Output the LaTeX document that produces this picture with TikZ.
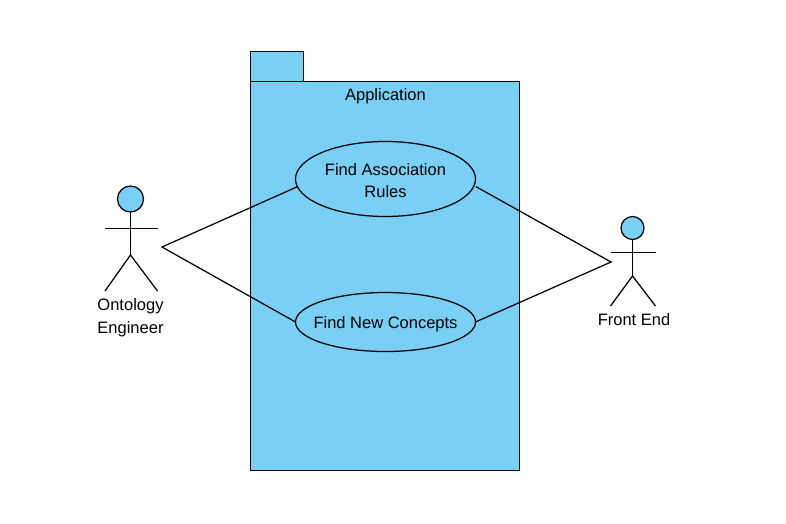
\documentclass[tikz,border=0pt]{standalone}
\usepackage{fontspec}
\setmainfont{Liberation Sans}
\usetikzlibrary{shapes.geometric}
\definecolor{umlblue}{RGB}{122,207,245}
\newcommand{\uctext}[2]{\raisebox{#1}[\height][\depth]{\begin{tabular}{@{}c@{}}#2\end{tabular}}}
\tikzset{
  ln/.style={draw=black,line width=1.25pt},
  box/.style={ln,fill=umlblue,rectangle,inner sep=0pt,outer sep=0pt},
  usecase/.style={ln,fill=umlblue,ellipse,inner xsep=-20pt,inner ysep=-8pt,outer sep=0pt,font=\fontsize{16.5}{22}\selectfont},
  head/.style={ln,fill=umlblue,circle,inner sep=0pt,outer sep=0pt},
  lbl/.style={inner sep=0pt,align=center,font=\fontsize{16.5}{23}\selectfont}
}
\begin{document}
\begin{tikzpicture}[x=1pt,y=-1pt]
\useasboundingbox (0,0) rectangle (786,524);
% package
\node[box,minimum width=53pt,minimum height=30pt] (tab) at (277,66.5) {};
\node[box,minimum width=269pt,minimum height=389pt] (pkg) at (385,276) {};
\node[lbl] (pkglabel) at (385.5,96) {Application};
% use cases
\node[usecase,minimum width=180pt,minimum height=75pt] (uc1) at (385.5,179) {\uctext{-3pt}{Find Association\\Rules}};
\node[usecase,minimum width=180pt,minimum height=59pt] (uc2) at (385.5,322) {\uctext{-2pt}{Find New Concepts}};
% left actor
\node[head,minimum size=26pt] (h1) at (130.5,199) {};
\coordinate (a1l) at (105,228.5);
\coordinate (a1r) at (157.5,228.5);
\coordinate (a1c) at (130.5,228.5);
\coordinate (c1) at (130.5,255);
\coordinate (f1l) at (105,291);
\coordinate (f1r) at (157.5,291);
\draw[ln] (h1.south) -- (a1c) -- (c1);
\draw[ln] (a1l) -- (a1r);
\draw[ln] (f1l) -- (c1) -- (f1r);
\node[lbl] (oe) at (130.5,318) {Ontology\\Engineer};
% right actor
\node[head,minimum size=23pt] (h2) at (632.5,228) {};
\coordinate (a2l) at (610.5,252.5);
\coordinate (a2r) at (655.5,252.5);
\coordinate (a2c) at (632.5,252.5);
\coordinate (c2) at (632.5,276);
\coordinate (f2l) at (610.5,306);
\coordinate (f2r) at (655.5,306);
\draw[ln] (h2.south) -- (a2c) -- (c2);
\draw[ln] (a2l) -- (a2r);
\draw[ln] (f2l) -- (c2) -- (f2r);
\node[lbl] (fe) at (634,320) {Front End};
% connectors
\coordinate (p1) at (162,247);
\coordinate (p2) at (611,262);
\draw[ln] (uc1.185) -- (p1) -- (uc2.west);
\draw[ln] ([xshift=2.5pt]uc1.-5) -- (p2) -- (uc2.east);
\end{tikzpicture}
\end{document}
